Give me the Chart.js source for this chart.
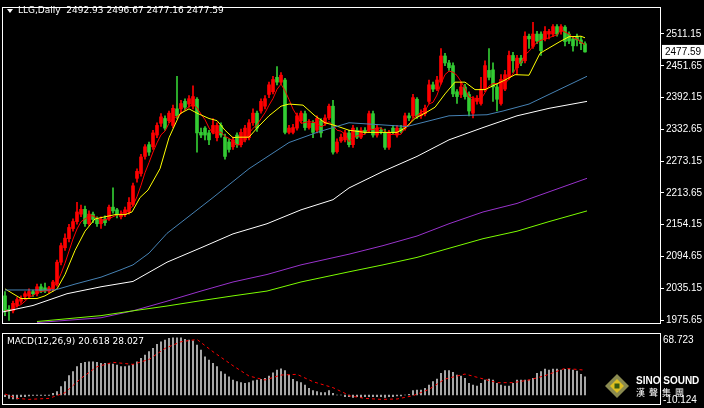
<!DOCTYPE html>
<html><head><meta charset="utf-8">
<script src="https://cdn.jsdelivr.net/npm/chart.js@4/dist/chart.umd.min.js"></script>
<style>
html,body{margin:0;padding:0;background:#000;width:704px;height:408px;overflow:hidden}
canvas{position:absolute;left:0}
#c1{top:0}#c2{top:331px}
</style></head><body>
<canvas id="c1" width="704" height="331"></canvas>
<canvas id="c2" width="704" height="77"></canvas>
<script>
// ---- data ----
const opens=[2021,1996,1993,2003,2011,2020,2021,2029,2025,2038,2036,2030,2034,2043,2084,2111,2128,2147,2160,2174,2183,2156,2174,2164,2156,2165,2165,2187,2182,2169,2173,2178,2192,2241,2250,2282,2304,2300,2322,2344,2353,2349,2340,2371,2371,2385,2380,2376,2389,2327,2335,2326,2327,2317,2340,2318,2309,2300,2322,2304,2313,2317,2345,2363,2367,2376,2398,2403,2430,2421,2425,2327,2327,2335,2349,2362,2336,2344,2331,2349,2344,2354,2376,2291,2311,2313,2326,2304,2331,2318,2331,2331,2362,2322,2331,2327,2299,2335,2322,2335,2335,2358,2358,2389,2358,2362,2385,2416,2408,2421,2470,2457,2452,2403,2398,2412,2398,2363,2385,2381,2408,2443,2444,2412,2381,2408,2430,2471,2448,2466,2461,2507,2488,2511,2511,2502,2511,2511,2525,2516,2524,2511,2502,2506,2500,2492.93];
const highs=[2029,2003,2011,2018,2021,2029,2034,2032,2043,2043,2045,2039,2050,2088,2120,2137,2155,2165,2196,2191,2189,2180,2178,2169,2169,2171,2191,2223,2185,2180,2187,2205,2232,2259,2286,2304,2309,2331,2345,2362,2358,2367,2378,2432,2387,2390,2396,2414,2392,2335,2338,2331,2353,2345,2345,2324,2315,2318,2326,2333,2340,2351,2371,2367,2390,2396,2421,2432,2450,2439,2428,2340,2342,2363,2367,2367,2351,2349,2358,2353,2360,2380,2387,2315,2324,2331,2331,2340,2336,2336,2336,2367,2367,2340,2336,2333,2331,2340,2340,2340,2363,2363,2398,2392,2369,2378,2425,2421,2432,2484,2475,2462,2457,2407,2421,2417,2403,2394,2396,2430,2461,2484,2457,2417,2435,2443,2479,2477,2471,2471,2515,2511,2533,2516,2515,2525,2520,2529,2529,2529,2527,2515,2507,2511,2506,2496.67];
const lows=[1984,1975,1989,2000,2007,2014,2018,2020,2021,2027,2027,2027,2030,2039,2079,2106,2122,2142,2155,2169,2151,2153,2158,2151,2147,2153,2162,2176,2167,2165,2169,2174,2189,2234,2245,2277,2284,2295,2317,2338,2331,2345,2336,2353,2363,2369,2374,2371,2290,2317,2313,2304,2324,2311,2318,2277,2290,2295,2299,2300,2309,2313,2340,2329,2363,2371,2392,2399,2416,2417,2324,2324,2324,2331,2345,2331,2333,2317,2326,2318,2340,2351,2286,2288,2308,2309,2300,2299,2315,2315,2324,2327,2318,2318,2324,2295,2295,2324,2318,2326,2331,2349,2354,2353,2353,2358,2381,2403,2405,2417,2452,2443,2394,2381,2392,2389,2358,2354,2380,2378,2403,2425,2385,2367,2378,2405,2426,2439,2435,2452,2457,2484,2484,2493,2471,2498,2502,2506,2507,2511,2489,2493,2479,2489,2482,2477.16];
const closes=[1993,1993,2007,2014,2016,2025,2029,2025,2038,2030,2030,2036,2047,2084,2115,2129,2149,2160,2178,2183,2156,2174,2164,2156,2164,2158,2187,2180,2173,2174,2182,2196,2227,2254,2281,2300,2290,2326,2340,2356,2335,2363,2372,2358,2381,2374,2390,2394,2326,2322,2322,2313,2340,2340,2322,2282,2295,2313,2304,2327,2335,2345,2363,2335,2385,2390,2416,2426,2421,2434,2327,2335,2336,2358,2363,2336,2345,2327,2353,2326,2354,2376,2290,2309,2318,2326,2304,2335,2318,2331,2327,2362,2322,2335,2329,2299,2327,2327,2335,2329,2358,2354,2392,2358,2363,2372,2416,2408,2425,2470,2457,2448,2399,2394,2412,2394,2367,2389,2390,2408,2452,2430,2412,2389,2426,2435,2471,2461,2466,2457,2507,2502,2511,2498,2480,2516,2516,2525,2511,2525,2497,2498,2489,2500,2493,2477.59];
// moving averages: [bar index, price]
const maYellow=[[0,2034],[4,2016],[8,2016],[10,2021],[13,2034],[15,2061],[17.5,2106],[20,2142],[22.5,2165],[25,2169],[27.5,2173],[30,2173],[31.75,2178],[33.75,2205],[35.75,2219],[38.75,2259],[41,2317],[43.75,2362],[46,2371],[48,2363],[51,2353],[53,2349],[55,2331],[57,2317],[58,2318],[61,2318],[63,2335],[66,2358],[69,2376],[71,2380],[74.5,2378],[77.5,2358],[80,2345],[82.5,2340],[86,2331],[90,2327],[94,2327],[98,2327],[100,2335],[102.5,2353],[105,2363],[107.5,2374],[110,2399],[112.5,2421],[115,2421],[117.5,2407],[120,2407],[122.5,2416],[125,2425],[127.5,2435],[131,2434],[133.75,2475],[136.25,2486],[138.75,2497],[141,2506],[144,2507],[145,2504]];
const maBlue=[[0,2032],[12.5,2032],[17.5,2043],[24,2056],[29,2070],[32,2079],[36,2101],[40.5,2138],[52,2205],[61,2259],[71,2308],[78,2327],[86,2345],[100.5,2338],[111,2358],[120.5,2360],[124.5,2367],[131,2380],[136,2398],[145.5,2432]];
const maWhite=[[-0.5,1991],[7,2003],[15.5,2025],[24,2038],[32,2048],[40.5,2084],[49,2111],[57,2137],[65.5,2156],[74,2182],[82,2201],[86,2223],[94.5,2254],[103,2282],[111,2313],[119.5,2336],[128,2358],[136,2372],[145.5,2385]];
const maPurple=[[8,1971],[24,1980],[32,1993],[40.5,2011],[49,2030],[57,2047],[65.5,2061],[74,2079],[86,2099],[94.5,2115],[103,2133],[111,2156],[119.5,2178],[128,2194],[132,2205],[145.5,2241]];
const maGreen=[[8,1973],[24,1984],[32,1993],[40.5,2002],[49,2012],[57,2021],[65.5,2030],[74,2047],[86,2066],[94.5,2079],[103,2093],[111,2110],[119.5,2128],[128,2142],[136,2160],[145.5,2180]];
const macdHist=[-1.9,-3.8,-4.5,-4.5,-1.9,-1.9,-1.1,-0.4,-0.4,-0.4,-0.4,-0.4,1.9,3.8,9.4,15,21.8,26.3,31.9,35.6,36.8,37.5,37.5,36.8,35.6,35.6,35.6,34.9,33.8,31.9,31.9,33,34.5,37.5,41.3,45,48.8,52.5,57,60,61.9,63.8,64.5,64.5,64.5,62.6,61.9,61.1,56.3,50.6,43.1,39.4,35.6,31.9,26.3,23.6,20.6,16.9,15,13.9,13.1,13.9,16.1,16.9,17.6,18.8,21.4,25.1,28.1,29.6,27.4,22.5,17.6,15,13.9,11.3,7.5,4.9,3.8,2.6,2.6,4.9,1.9,0,0,-1.9,
-1.9,-2.6,-1.9,-2.6,-1.9,-1.9,-1.9,-1.9,-1.9,-2.6,-1.9,-1.9,-1.1,-1.1,0,0.8,4.9,5.6,5.6,7.5,11.3,15,18,24.4,27.4,27.4,25.5,22.5,21.4,18.8,13.1,11.3,10.1,13.1,16.9,18,16.9,13.1,11.3,10.1,10.1,13.1,16.9,16.9,16.9,16.9,18.8,24.4,26.3,29.3,28.1,29.3,29.3,28.1,28.9,29.3,28.1,27,23.3,20.618];
const macdSignal=[[0,1.1],[3,-3.8],[6,-4.9],[11,-3.8],[15,2.6],[19,18.8],[23,31.9],[27,36.8],[32,34.5],[36,40.1],[40,52.5],[44,60],[48,62.6],[52,48.8],[57,33],[61,21.4],[65,16.9],[69,22.5],[73,23.3],[77,15],[82,8.3],[85,1.9],[86,-0.8],[90,-3.8],[94,-4.9],[98,-4.5],[102,-0.8],[106,6.4],[110,18],[115,23.6],[119,18.8],[123,13.9],[127,13.9],[131,16.9],[135,21.8],[140,30],[145,28.027]];
const priceTicks=[2511.15,2451.65,2392.15,2332.65,2273.15,2213.65,2154.15,2094.65,2035.15,1975.65];
const header='LLG,Daily  2492.93 2496.67 2477.16 2477.59';
const macdTitle='MACD(12,26,9) 20.618 28.027';

// ---- styles ----
const UP='#ff0000', DOWN='#33cc33', FONT='"DejaVu Sans", sans-serif';
const idx=closes.map((_,i)=>i);
const upColor=c=>closes[c.dataIndex]>=opens[c.dataIndex]?UP:DOWN;
const pts=a=>a.map(p=>({x:p[0],y:p[1]}));
const ma5=closes.map((_,i)=>{const s=closes.slice(Math.max(0,i-4),i+1);return {x:i,y:s.reduce((a,b)=>a+b,0)/s.length};});
const line=(data,color)=>({type:'line',data,borderColor:color,borderWidth:1,pointRadius:0,tension:0,order:0});

const frame={id:'frame',afterDraw(ch,a,o){const c=ch.ctx,ar=ch.chartArea;c.save();c.strokeStyle='#fff';c.lineWidth=1;
 c.strokeRect(ar.left-0.5,ar.top-0.5,ar.right-ar.left+1,ar.bottom-ar.top+1);c.restore();if(o.extra)o.extra(ch);}};

new Chart(document.getElementById('c1'),{type:'bar',
 data:{datasets:[
  line(pts(maGreen),'#7cfc00'),line(pts(maPurple),'#9932cc'),line(pts(maWhite),'#ffffff'),line(pts(maBlue),'#4682b4'),line(pts(maYellow),'#ffff00'),line(ma5,'#ff0000'),
  {data:idx.map(i=>({x:i,y:[lows[i],highs[i]]})),backgroundColor:upColor,barThickness:1,grouped:false,order:2},
  {data:idx.map(i=>({x:i,y:[opens[i],closes[i]]})),backgroundColor:upColor,barThickness:3,grouped:false,order:1,minBarLength:1}
 ]},
 options:{responsive:false,devicePixelRatio:1,animation:false,events:[],
  layout:{padding:{left:3,top:3,right:0,bottom:1}},
  plugins:{legend:{display:false},tooltip:{enabled:false},
   frame:{extra(ch){const c=ch.ctx;c.save();c.fillStyle='#fff';
     c.beginPath();c.moveTo(7,9);c.lineTo(13,9);c.lineTo(10,13);c.closePath();c.fill();
     c.font='9px '+FONT;c.textBaseline='middle';c.fillText(header,18,11);
     const y=ch.scales.y.getPixelForValue(closes[closes.length-1]);
     c.fillRect(662,y-7,42,14);c.fillStyle='#000';c.font='10px "Liberation Sans"';c.fillText('2477.59',665,y);c.restore();}}},
  scales:{
   x:{type:'linear',min:-0.5,max:163.75,display:false,offset:false},
   y:{position:'right',min:1970.2,max:2559.8,
    afterFit(s){s.width=44;},
    afterBuildTicks(s){s.ticks=priceTicks.map(v=>({value:v}));},
    ticks:{color:'#fff',font:{size:10,family:'"Liberation Sans"'},padding:2,callback:v=>v.toFixed(2)},
    grid:{drawOnChartArea:false,color:'#fff',tickLength:4},border:{color:'#fff'}}}},
 plugins:[frame]});

new Chart(document.getElementById('c2'),{type:'bar',
 data:{datasets:[
  {type:'line',data:pts(macdSignal),borderColor:'#ff0000',borderWidth:1,borderDash:[3,3],pointRadius:0,order:0},
  {data:idx.map(i=>({x:i,y:macdHist[i]})),backgroundColor:'#c8c8c8',barThickness:1,order:1}
 ]},
 options:{responsive:false,devicePixelRatio:1,animation:false,events:[],
  layout:{padding:{left:3,top:3,right:44,bottom:4}},
  plugins:{legend:{display:false},tooltip:{enabled:false},
   frame:{extra(ch){const c=ch.ctx;c.save();c.fillStyle='#fff';c.font='9px '+FONT;c.textBaseline='middle';
     c.fillText(macdTitle,7,11);c.font='10px "Liberation Sans"';c.fillText('68.723',663,9);c.fillText('-10.124',663,69);
     c.translate(617,55);c.fillStyle='#8a8a50';c.beginPath();c.moveTo(0,-12);c.lineTo(12,0);c.lineTo(0,12);c.lineTo(-12,0);c.closePath();c.fill();
     c.fillStyle='#e0c020';c.beginPath();c.moveTo(0,-7);c.lineTo(7,0);c.lineTo(0,7);c.lineTo(-7,0);c.closePath();c.fill();
     c.fillStyle='#3a5a10';c.fillRect(-2.5,-2.5,5,5);c.translate(-617,-55);
     c.fillStyle='#fff';c.font='bold 10px "Liberation Sans"';c.fillText('SINO SOUND',636,50);
     c.font='9px "Noto Sans CJK TC"';c.fillText('漢  聲  集  團',636,62);c.restore();}}},
  scales:{x:{type:'linear',min:-0.5,max:163.75,display:false,offset:false},
   y:{min:-10.124,max:68.723,display:false}}},
 plugins:[frame]});
</script></body></html>
